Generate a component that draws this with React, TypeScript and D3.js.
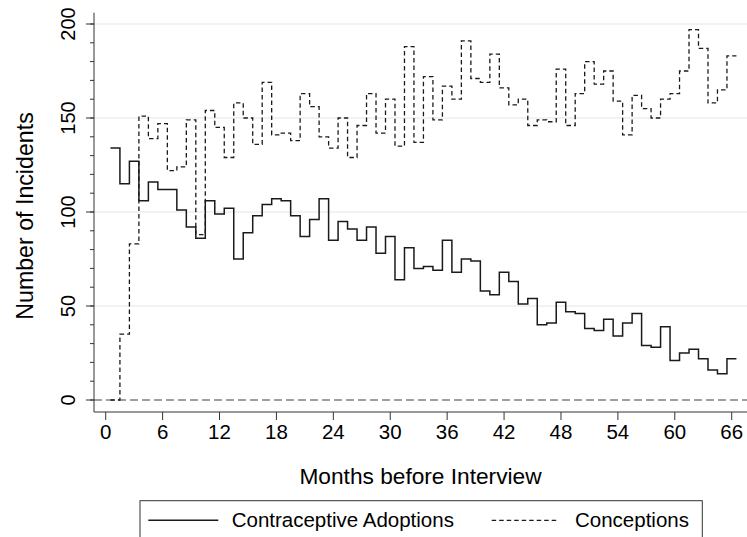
import React from "react";
import * as d3 from "d3";

const months: number[] = d3.range(1, 67);
const adoptions: number[] = [
  134, 115, 127, 106, 116, 112, 112, 101, 92, 86, 106, 99, 102, 75, 89, 98, 104, 107, 106, 98,
  87, 96, 107, 85, 95, 91, 85, 92, 78, 87, 64, 81, 70, 71, 69, 85, 68, 75, 74, 58,
  56, 68, 63, 51, 54, 40, 41, 52, 47, 46, 38, 37, 43, 34, 41, 46, 29, 28, 39, 21,
  25, 27, 22, 16, 14, 22,
];
const conceptions: number[] = [
  0, 35, 83, 151, 139, 147, 122, 124, 149, 88, 154, 145, 129, 158, 150, 136, 169, 141, 142, 138,
  163, 156, 140, 134, 150, 129, 146, 163, 142, 160, 135, 188, 137, 172, 149, 167, 160, 191, 171, 169,
  184, 166, 157, 160, 146, 149, 148, 176, 146, 163, 180, 168, 175, 159, 141, 162, 155, 150, 160, 163,
  175, 197, 187, 158, 165, 183,
];
const xTicks: number[] = d3.range(0, 67, 6);
const yTicks: number[] = [0, 50, 100, 150, 200];
const yMinor: number[] = d3.range(0, 201, 10);
const seriesNames: string[] = ["Contraceptive Adoptions", "Conceptions"];

const W = 747;
const H = 537;
const FONT = "'Liberation Sans', Arial, Helvetica, sans-serif";

export default function App() {
  const x = d3.scaleLinear().domain([0, 66]).range([105.7, 731.7]);
  const y = d3.scaleLinear().domain([0, 200]).range([400, 24]);
  const plotLeft = 94;
  const plotRight = 747;
  const plotTop = 12.7;
  const plotBottom = 412;

  const line = d3
    .line<[number, number]>()
    .x((d) => x(d[0]))
    .y((d) => y(d[1]))
    .curve(d3.curveStepAfter);

  const stepPts = (vals: number[]): [number, number][] => {
    const pts: [number, number][] = vals.map((v, i) => [months[i] - 0.5, v]);
    pts.push([months[months.length - 1] + 0.5, vals[vals.length - 1]]);
    return pts;
  };

  return (
    <svg
      width={W}
      height={H}
      style={{ position: "absolute", left: 0, top: 0, background: "#fff" }}
      fontFamily={FONT}
    >
      <rect x={0} y={0} width={W} height={H} fill="#fff" />
      {/* gridlines */}
      {yTicks
        .filter((t) => t !== 0)
        .map((t) => (
          <line key={"g" + t} x1={plotLeft} x2={plotRight} y1={y(t)} y2={y(t)} stroke="#e9eff1" strokeWidth={1.4} />
        ))}
      {/* zero reference line */}
      <line x1={plotLeft} x2={plotRight} y1={y(0)} y2={y(0)} stroke="#808080" strokeWidth={1.5} strokeDasharray="8,4" />

      {/* series */}
      <path d={line(stepPts(adoptions)) || ""} fill="none" stroke="#1a1a1a" strokeWidth={1.5} />
      <path d={line(stepPts(conceptions)) || ""} fill="none" stroke="#1a1a1a" strokeWidth={1.3} strokeDasharray="4.5,3" />

      {/* y axis */}
      <line x1={plotLeft} x2={plotLeft} y1={plotTop} y2={plotBottom} stroke="#333" strokeWidth={1} />
      {yMinor.map((t) => (
        <line key={"m" + t} x1={plotLeft - 4} x2={plotLeft} y1={y(t)} y2={y(t)} stroke="#333" strokeWidth={1} />
      ))}
      {yTicks.map((t) => (
        <g key={"y" + t}>
          <line x1={plotLeft - 8} x2={plotLeft} y1={y(t)} y2={y(t)} stroke="#333" strokeWidth={1} />
          <text
            transform={`translate(75,${y(t)}) rotate(-90)`}
            textAnchor="middle"
            fontSize={20}
            fill="#000"
          >
            {t}
          </text>
        </g>
      ))}
      <text transform={`translate(33.3,216) rotate(-90)`} textAnchor="middle" fontSize={23.2} fill="#000">
        Number of Incidents
      </text>

      {/* x axis */}
      <line x1={plotLeft} x2={plotRight} y1={plotBottom} y2={plotBottom} stroke="#333" strokeWidth={1} />
      {xTicks.map((t) => (
        <g key={"x" + t}>
          <line x1={x(t)} x2={x(t)} y1={plotBottom} y2={plotBottom + 8} stroke="#333" strokeWidth={1} />
          <text x={x(t)} y={439} textAnchor="middle" fontSize={20.5} fill="#000">
            {t}
          </text>
        </g>
      ))}
      <text x={(plotLeft + plotRight) / 2} y={484} textAnchor="middle" fontSize={22.7} fill="#000">
        Months before Interview
      </text>

      {/* legend */}
      <rect x={140} y={500.7} width={562.3} height={50} fill="#fff" stroke="#333" strokeWidth={1} />
      <line x1={148.3} x2={218.3} y1={520.3} y2={520.3} stroke="#1a1a1a" strokeWidth={1.5} />
      <text x={231.7} y={527} fontSize={20.5} fill="#000">
        {seriesNames[0]}
      </text>
      <line x1={491.7} x2={556.5} y1={520.3} y2={520.3} stroke="#1a1a1a" strokeWidth={1.3} strokeDasharray="4.5,3" />
      <text x={575} y={527} fontSize={20.5} fill="#000">
        {seriesNames[1]}
      </text>
    </svg>
  );
}
